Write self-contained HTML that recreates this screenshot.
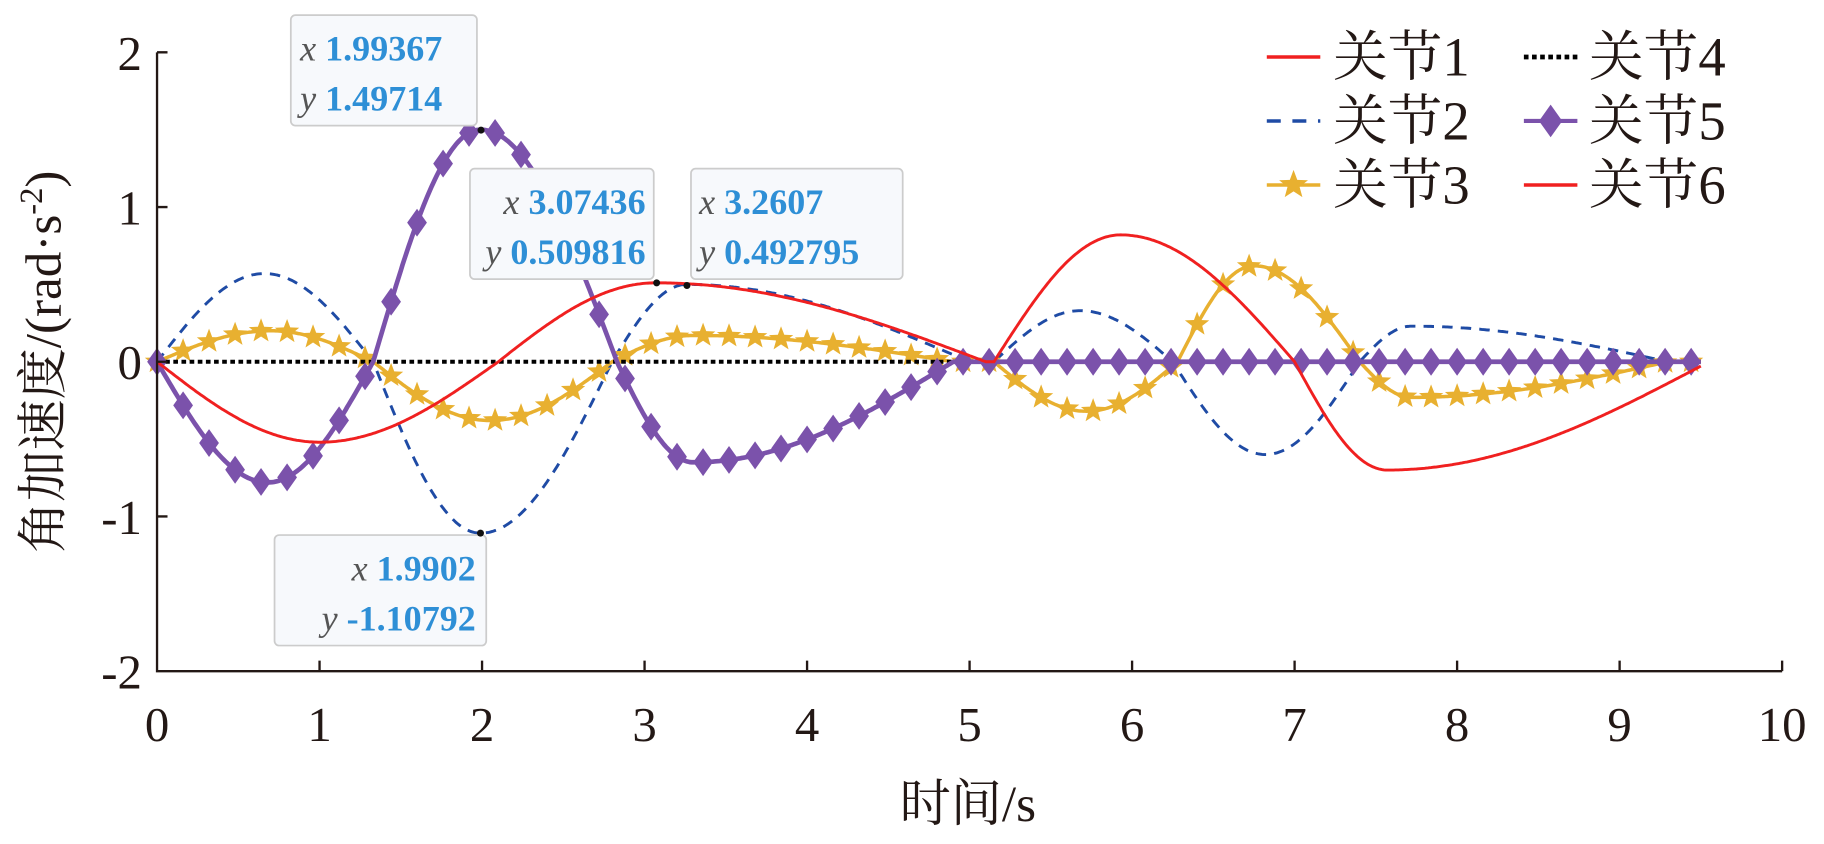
<!DOCTYPE html>
<html><head><meta charset="utf-8">
<style>
html,body{margin:0;padding:0;background:#fff;}
svg{display:block;}
.lab{font-style:italic;fill:#555;}
.num{font-weight:bold;fill:#2E8FD6;}
</style></head>
<body>
<svg id="s" width="1824" height="844" viewBox="0 0 1568 725.6" preserveAspectRatio="none" xmlns="http://www.w3.org/2000/svg" font-family="'Liberation Serif', serif" fill="#231815">
<g id="plot"></g>
<g stroke="#231815" stroke-width="2" fill="none">
<path d="M135,45 V577 H1532"/>
<path d="M135,45 h9 M135,178 h9 M135,311 h9 M135,444 h9"/>
<path d="M274.7,577 v-9 M414.4,577 v-9 M554.1,577 v-9 M693.8,577 v-9 M833.5,577 v-9 M973.2,577 v-9 M1112.9,577 v-9 M1252.6,577 v-9 M1392.3,577 v-9 M1532,577 v-9"/>
</g>
<g font-size="42" text-anchor="end" font-family="'Liberation Serif', serif" fill="#231815">
<text x="122" y="60">2</text><text x="122" y="193">1</text><text x="122" y="326">0</text><text x="122" y="459">-1</text><text x="122" y="592">-2</text>
</g>
<g font-size="42" text-anchor="middle" font-family="'Liberation Serif', serif" fill="#231815">
<text x="135" y="637">0</text><text x="274.7" y="637">1</text><text x="414.4" y="637">2</text><text x="554.1" y="637">3</text><text x="693.8" y="637">4</text><text x="833.5" y="637">5</text><text x="973.2" y="637">6</text><text x="1112.9" y="637">7</text><text x="1252.6" y="637">8</text><text x="1392.3" y="637">9</text><text x="1532" y="637">10</text>
</g>
<text x="832" y="706" font-size="44" text-anchor="middle" font-family="'Liberation Serif', 'Noto Serif CJK SC', serif" fill="#231815">时间/s</text>
<text transform="translate(52,311) rotate(-90)" font-size="44" text-anchor="middle" font-family="'Liberation Serif', 'Noto Serif CJK SC', serif" fill="#231815">角加速度/(rad·s<tspan dy="-16" font-size="28">-2</tspan><tspan dy="16">)</tspan></text>
<g font-size="47" font-family="'Liberation Serif', 'Noto Serif CJK SC', serif" fill="#231815">
<line x1="1089" y1="49" x2="1135" y2="49" stroke="#F02020" stroke-width="3"/>
<text x="1146" y="65">关节1</text>
<line x1="1089" y1="104" x2="1135" y2="104" stroke="#1F4BA5" stroke-width="3" stroke-dasharray="12,10"/>
<text x="1146" y="120">关节2</text>
<line x1="1089" y1="159" x2="1135" y2="159" stroke="#E8B030" stroke-width="3"/>
<path id="lstar" d="" fill="#E8B030"/>
<text x="1146" y="175">关节3</text>
<line x1="1310" y1="49" x2="1356" y2="49" stroke="#000" stroke-width="4" stroke-dasharray="4,3"/>
<text x="1366" y="65">关节4</text>
<line x1="1310" y1="104" x2="1356" y2="104" stroke="#7B52AB" stroke-width="3.5"/>
<path d="M1333,90 l10,14 l-10,14 l-10,-14z" fill="#7B52AB"/>
<text x="1366" y="120">关节5</text>
<line x1="1310" y1="159" x2="1356" y2="159" stroke="#F02020" stroke-width="3"/>
<text x="1366" y="175">关节6</text>
</g>
<g font-size="31" font-family="'Liberation Serif', serif">
<rect x="250" y="13" width="160" height="95" rx="4" fill="#F7F9FC" stroke="#CCCCCC" stroke-width="1.5"/>
<text x="258" y="52"><tspan class="lab">x</tspan> <tspan class="num">1.99367</tspan></text>
<text x="258" y="95"><tspan class="lab">y</tspan> <tspan class="num">1.49714</tspan></text>
<rect x="404" y="145" width="158" height="95" rx="4" fill="#F7F9FC" stroke="#CCCCCC" stroke-width="1.5"/>
<text x="555" y="184" text-anchor="end"><tspan class="lab">x</tspan> <tspan class="num">3.07436</tspan></text>
<text x="555" y="227" text-anchor="end"><tspan class="lab">y</tspan> <tspan class="num">0.509816</tspan></text>
<rect x="594" y="145" width="182" height="95" rx="4" fill="#F7F9FC" stroke="#CCCCCC" stroke-width="1.5"/>
<text x="601" y="184"><tspan class="lab">x</tspan> <tspan class="num">3.2607</tspan></text>
<text x="601" y="227"><tspan class="lab">y</tspan> <tspan class="num">0.492795</tspan></text>
<rect x="236" y="460" width="182" height="95" rx="4" fill="#F7F9FC" stroke="#CCCCCC" stroke-width="1.5"/>
<text x="409" y="499" text-anchor="end"><tspan class="lab">x</tspan> <tspan class="num">1.9902</tspan></text>
<text x="409" y="542" text-anchor="end"><tspan class="lab">y</tspan> <tspan class="num">-1.10792</tspan></text>
</g>
<g id="dots" fill="#111"></g>
</svg>
<script>
var X=function(t){return 135+139.7*t;}, Y=function(v){return 311-133*v;};
function bump(t,a,b,pk,amp){if(t<=a||t>=b)return 0;if(t<pk)return amp*Math.sin(Math.PI/2*(t-a)/(pk-a));return amp*Math.cos(Math.PI/2*(t-pk)/(b-pk));}
function mk(segs){return function(t){var s=0;for(var i=0;i<segs.length;i++){var g=segs[i];s+=bump(t,g[0],g[1],g[2],g[3]);}return s;};}
var f1=mk([[0,2.1,1.0,-0.52],[2.1,5.1,3.07,0.51],[5.15,7.0,5.93,0.82],[7.0,9.55,7.57,-0.7]]);
var f2=mk([[0,1.33,0.66,0.57],[1.33,2.8,1.99,-1.108],[2.8,5.0,3.26,0.5],[5.15,6.25,5.68,0.33],[6.25,7.4,6.82,-0.6],[7.4,9.3,7.72,0.23]]);
var f3=mk([[0,1.33,0.7,0.2],[1.33,2.8,2.05,-0.38],[2.8,4.9,3.3,0.17],[5.15,6.28,5.72,-0.32],[6.28,7.4,6.75,0.62],[7.4,9.3,7.72,-0.23]]);
var f5=mk([[0,1.33,0.68,-0.78],[1.33,2.83,1.99,1.5],[2.83,4.9,3.3,-0.65]]);
function path(f){var d="";for(var t=0;t<=9.5001;t+=0.01){d+=(d?"L":"M")+X(t).toFixed(1)+","+Y(f(t)).toFixed(1);}return d;}
var ns="http://www.w3.org/2000/svg",g=document.getElementById("plot");
function add(tag,attrs,parent){var e=document.createElementNS(ns,tag);for(var k in attrs)e.setAttribute(k,attrs[k]);(parent||g).appendChild(e);return e;}
function star(cx,cy,r){var d="";for(var i=0;i<10;i++){var a=-Math.PI/2+i*Math.PI/5,rr=i%2?r*0.42:r;d+=(i?"L":"M")+(cx+rr*Math.cos(a)).toFixed(1)+","+(cy+rr*Math.sin(a)).toFixed(1);}return d+"Z";}
add("path",{d:path(f2),fill:"none",stroke:"#1F4BA5","stroke-width":2.5,"stroke-dasharray":"9,7"});
add("path",{d:path(f3),fill:"none",stroke:"#E8B030","stroke-width":3});
var sd="";for(var t=0;t<=9.51;t+=0.16){sd+=star(X(t),Y(f3(t)),11);}
add("path",{d:sd,fill:"#E8B030"});
add("path",{d:"M"+X(0)+","+Y(0)+"H"+X(9.5),fill:"none",stroke:"#000","stroke-width":3.5,"stroke-dasharray":"4,3"});
add("path",{d:path(f5),fill:"none",stroke:"#7B52AB","stroke-width":4});
var dd="";for(var t=0;t<=9.51;t+=0.16){var cx=X(t),cy=Y(f5(t));dd+="M"+cx.toFixed(1)+","+(cy-12)+"l8.5,12l-8.5,12l-8.5,-12z";}
add("path",{d:dd,fill:"#7B52AB"});
add("path",{d:path(f1),fill:"none",stroke:"#F02020","stroke-width":2.5});
document.getElementById("lstar").setAttribute("d",star(1112,159,13));
var dots=document.getElementById("dots");
[[1.99367,1.49714],[3.07436,0.509816],[3.2607,0.492795],[1.9902,-1.10792]].forEach(function(p){add("circle",{cx:X(p[0]),cy:Y(p[1]),r:3},dots);});
</script>
</body></html>
